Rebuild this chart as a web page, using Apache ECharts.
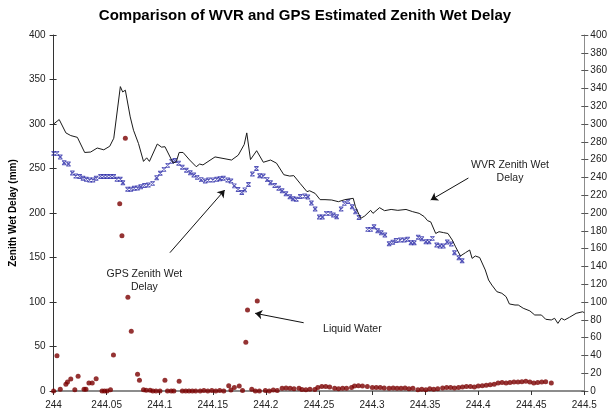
<!DOCTYPE html>
<html>
<head>
<meta charset="utf-8">
<script src="https://cdn.jsdelivr.net/npm/echarts@6/dist/echarts.min.js"></script>
<style>
  html, body { margin: 0; padding: 0; background: #fff; }
  #chart { width: 610px; height: 415px; }
</style>
</head>
<body>
<div id="chart"></div>
<script>
// WVR zenith wet delay (mm), black line
const wvrTime = [244.0000, 244.0053, 244.0116, 244.0162, 244.0224, 244.0293, 244.0349, 244.0411, 244.0473, 244.0529,
  244.0567, 244.0629, 244.0651, 244.0676, 244.0722, 244.0753, 244.0800, 244.0847, 244.0877, 244.0903,
  244.0977, 244.1017, 244.1049, 244.1127, 244.1157, 244.1183, 244.1220, 244.1282, 244.1344, 244.1376,
  244.1407, 244.1521, 244.1677, 244.1740, 244.1796, 244.1820, 244.1855, 244.1913, 244.1976, 244.2044,
  244.2100, 244.2169, 244.2225, 244.2263, 244.2324, 244.2387, 244.2412, 244.2464, 244.2511, 244.2557,
  244.2620, 244.2683, 244.2744, 244.2823, 244.2844, 244.2894, 244.2931, 244.2987, 244.3009, 244.3071,
  244.3118, 244.3180, 244.3243, 244.3320, 244.3383, 244.3444, 244.3491, 244.3523, 244.3553, 244.3600,
  244.3631, 244.3672, 244.3715, 244.3756, 244.3787, 244.3833, 244.3880, 244.3920, 244.3943, 244.3973,
  244.4014, 244.4067, 244.4098, 244.4129, 244.4176, 244.4223, 244.4263, 244.4294, 244.4347, 244.4378,
  244.4424, 244.4487, 244.4533, 244.4596, 244.4636, 244.4689, 244.4720, 244.4751, 244.4783, 244.4814,
  244.4860, 244.4923, 244.4984, 244.5000];
const wvrDelay = [300, 305, 290, 287, 285, 268, 268.5, 273, 271, 275,
  284, 342, 336, 338, 308, 293, 278, 258, 262, 258,
  277.5, 274, 274.5, 256, 258, 268, 268, 259.5, 252, 255,
  254, 263, 259.5, 265, 277, 290, 260, 270, 257, 259.5,
  256, 243, 241.5, 242, 233, 224, 225, 222, 215, 215,
  214.6, 212.7, 215, 216.5, 207, 194, 196.6, 203, 199.6, 206,
  202.6, 204, 203, 204, 201.5, 199.6, 196, 191.4, 190, 177,
  179, 178, 177, 169.6, 162, 151.7, 155.4, 158.4, 149, 151.7,
  150, 136, 124.7, 119, 111.6, 109.8, 106, 97.8, 96.6, 96.6,
  93, 90, 85.4, 85.4, 80.6, 79.8, 81.7, 76, 81.7, 79.8,
  82.8, 87.3, 89, 88];

// GPS zenith wet delay (mm), blue markers
const gpsTime = [244.0000, 244.0032, 244.0063, 244.0100, 244.0140, 244.0177, 244.0209, 244.0246, 244.0277, 244.0308,
  244.0340, 244.0371, 244.0401, 244.0442, 244.0473, 244.0504, 244.0536, 244.0567, 244.0597, 244.0629,
  244.0653, 244.0697, 244.0728, 244.0760, 244.0791, 244.0821, 244.0856, 244.0893, 244.0933, 244.0971,
  244.1005, 244.1040, 244.1075, 244.1111, 244.1142, 244.1178, 244.1213, 244.1251, 244.1288, 244.1321,
  244.1353, 244.1391, 244.1428, 244.1460, 244.1500, 244.1537, 244.1568, 244.1600, 244.1640, 244.1671,
  244.1703, 244.1738, 244.1773, 244.1801, 244.1836, 244.1873, 244.1911, 244.1941, 244.1976, 244.2013,
  244.2044, 244.2083, 244.2121, 244.2153, 244.2189, 244.2226, 244.2256, 244.2287, 244.2324, 244.2365,
  244.2396, 244.2429, 244.2464, 244.2503, 244.2533, 244.2569, 244.2604, 244.2636, 244.2667, 244.2709,
  244.2739, 244.2774, 244.2813, 244.2844, 244.2877, 244.2959, 244.2987, 244.3019, 244.3053, 244.3087,
  244.3121, 244.3161, 244.3196, 244.3227, 244.3267, 244.3304, 244.3336, 244.3367, 244.3398, 244.3435,
  244.3469, 244.3507, 244.3538, 244.3569, 244.3609, 244.3640, 244.3672, 244.3709, 244.3747, 244.3777,
  244.3818, 244.3849];
const gpsDelay = [267, 267, 263, 256.5, 255, 245, 241.5, 241, 239, 238,
  237, 237, 239, 241, 241, 241, 241, 241, 238, 238,
  234, 226.6, 226.6, 227.8, 228, 229.6, 231, 231.5, 233.3, 239.5,
  244.6, 249, 253.5, 258, 259, 255.8, 251.3, 248, 245.3, 242.7,
  240, 237.5, 236, 237, 237, 238, 238.5, 239, 237, 236,
  230.5, 226.5, 223, 226, 232, 243.8, 250, 241.8, 241.6, 237.5,
  234, 231, 227.8, 225, 221.6, 218.3, 216, 215.5, 218.6, 219,
  218, 211.3, 204.5, 195.5, 195.5, 199.6, 199.6, 197.8, 195.8, 204.5,
  210.8, 213, 207, 201.5, 195, 181.6, 181.6, 184.6, 180, 177.9,
  175.3, 165.5, 167.2, 169, 169.7, 169.7, 170.4, 166.6, 166.6, 172.7,
  171, 167.8, 167.6, 171.5, 164, 163, 163, 167.4, 165.2, 155.4,
  149.8, 146.4];

// Liquid water, dark red dots
const lwTime = [244.0000, 244.0032, 244.0063, 244.0116, 244.0131, 244.0162, 244.0200, 244.0231, 244.0287, 244.0305,
  244.0333, 244.0364, 244.0401, 244.0457, 244.0480, 244.0504, 244.0536, 244.0564, 244.0623, 244.0644,
  244.0676, 244.0700, 244.0732, 244.0791, 244.0809, 244.0847, 244.0872, 244.0909, 244.0935, 244.0965,
  244.1002, 244.1049, 244.1073, 244.1108, 244.1133, 244.1183, 244.1213, 244.1245, 244.1276, 244.1307,
  244.1339, 244.1381, 244.1416, 244.1453, 244.1491, 244.1528, 244.1565, 244.1603, 244.1650, 244.1671,
  244.1703, 244.1749, 244.1780, 244.1811, 244.1827, 244.1919, 244.1867, 244.1901, 244.1939, 244.1995,
  244.2032, 244.2070, 244.2107, 244.2153, 244.2190, 244.2228, 244.2265, 244.2312, 244.2340, 244.2377,
  244.2415, 244.2461, 244.2489, 244.2527, 244.2564, 244.2601, 244.2648, 244.2685, 244.2723, 244.2760,
  244.2807, 244.2835, 244.2872, 244.2910, 244.2956, 244.3003, 244.3040, 244.3077, 244.3115, 244.3161,
  244.3199, 244.3236, 244.3273, 244.3311, 244.3348, 244.3385, 244.3432, 244.3469, 244.3507, 244.3544,
  244.3581, 244.3619, 244.3665, 244.3703, 244.3740, 244.3777, 244.3815, 244.3852, 244.3889, 244.3927,
  244.3964, 244.4001, 244.4039, 244.4076, 244.4113, 244.4151, 244.4188, 244.4225, 244.4263, 244.4300,
  244.4337, 244.4375, 244.4412, 244.4449, 244.4487, 244.4524, 244.4561, 244.4599, 244.4636, 244.4689];
const lwValue = [0, 39.5, 2, 7.5, 10, 13.5, 1.5, 16.5, 2, 2,
  9, 9, 13.8, 0, 0, 0, 1.5, 40.4, 210.5, 174.5,
  284, 105.3, 67, 18.7, 12, 1.5, 0.8, 0.8, 0, 0,
  0, 12, 0, 0, 0, 11, 0, 0, 0, 0,
  0, 0, 0.5, 0, 0.5, 0, 0.5, 0, 6, 1,
  4, 5.6, 0.5, 54.7, 91, 101, 2, 0, 0, 0.5,
  0, 1, 0.5, 3, 3.5, 3, 2.5, 3, 1.8, 1.5,
  2, 1.8, 4, 5, 5, 4.5, 3, 2.5, 3, 3,
  4, 5.5, 6, 5.5, 5, 4, 4, 4, 3.5, 3,
  3.5, 3, 3, 3.5, 2.5, 3, 1.5, 2, 1.5, 2.5,
  2, 2.5, 3.5, 4, 4, 3.5, 4, 4.5, 5, 5,
  4.5, 5.5, 6, 6.5, 7, 7.5, 9, 9.5, 9, 9.5,
  10, 10, 10.5, 11, 10, 9, 9.5, 10, 10.5, 9];

// annotation arrows [fromTime, fromValue, toTime, toValue] and text [time, value, label]
const arrows = [
  [244.3908, 239.3, 244.3553, 214.6],
  [244.1096, 155.4, 244.1612, 225.8],
  [244.2356, 76.7, 244.1899, 87.3]
];
const notes = [
  [244.4300, 246.3, 'WVR Zenith Wet\nDelay'],
  [244.0855, 124.0, 'GPS Zenith Wet\nDelay'],
  [244.2815, 69.7, 'Liquid Water']
];

const zip = (a, b) => a.map((v, i) => [v, b[i]]);
const FONT = '"Liberation Sans", Arial, sans-serif';

const chart = echarts.init(document.getElementById('chart'));
chart.setOption({
  animation: false,
  backgroundColor: '#fff',
  textStyle: { fontFamily: FONT },
  title: {
    text: 'Comparison of WVR and GPS Estimated Zenith Wet Delay',
    left: 'center',
    top: 3,
    textStyle: { fontFamily: FONT, fontSize: 15, fontWeight: 'bold', color: '#000' }
  },
  grid: { left: 49, top: 35, width: 536, height: 356, containLabel: false },
  xAxis: {
    type: 'value',
    min: 244,
    max: 244.5,
    interval: 0.05,
    axisLine: { lineStyle: { color: '#8c8c8c', width: 2 } },
    axisTick: { show: true, length: 4, lineStyle: { color: '#333' } },
    axisLabel: {
      fontSize: 10, color: '#222', margin: 9,
      formatter: v => String(parseFloat(v.toFixed(2)))
    },
    splitLine: { show: false }
  },
  yAxis: [
    {
      type: 'value', position: 'left', min: 0, max: 400, interval: 50,
      name: 'Zenith Wet Delay (mm)',
      nameLocation: 'middle', nameGap: 34,
      nameTextStyle: { fontFamily: FONT, fontSize: 10, fontWeight: 'bold', color: '#000' },
      axisLine: { show: true, lineStyle: { color: '#333' } },
      axisTick: { show: true, length: 4, lineStyle: { color: '#333' } },
      axisLabel: { fontSize: 10, color: '#222', margin: 8 },
      splitLine: { show: false }
    },
    {
      type: 'value', position: 'right', min: 0, max: 400, interval: 20,
      axisLine: { show: true, lineStyle: { color: '#8c8c8c' } },
      axisTick: { show: true, length: 4, lineStyle: { color: '#555' } },
      axisLabel: { fontSize: 10, color: '#222', margin: 6 },
      splitLine: { show: false }
    },
    {
      type: 'value', position: 'left', min: 0, max: 400, interval: 50,
      axisLine: { show: false },
      axisTick: { show: true, inside: true, length: 3, lineStyle: { color: '#333' } },
      axisLabel: { show: false },
      splitLine: { show: false }
    },
    {
      type: 'value', position: 'right', min: 0, max: 400, interval: 20,
      axisLine: { show: false },
      axisTick: { show: true, inside: true, length: 3, lineStyle: { color: '#555' } },
      axisLabel: { show: false },
      splitLine: { show: false }
    }
  ],
  series: [
    {
      name: 'Liquid Water',
      type: 'scatter',
      yAxisIndex: 1,
      data: zip(lwTime, lwValue),
      symbol: 'circle',
      symbolSize: 5,
      itemStyle: { color: '#7a0000' },
      z: 2
    },
    {
      name: 'GPS Zenith Wet Delay',
      type: 'scatter',
      data: zip(gpsTime, gpsDelay),
      symbol: 'path://M0,0L10,0M0,10L10,10M1,1L9,9M9,1L1,9',
      symbolSize: [4.5, 4],
      itemStyle: { color: 'rgba(0,0,0,0)', borderColor: '#2a2aa8', borderWidth: 1 },
      z: 3
    },
    {
      name: 'WVR Zenith Wet Delay',
      type: 'line',
      data: zip(wvrTime, wvrDelay),
      showSymbol: false,
      symbol: 'none',
      lineStyle: { color: '#1a1a1a', width: 1 },
      z: 4,
      markLine: {
        silent: true,
        symbol: ['none', 'arrow'],
        symbolSize: 7,
        lineStyle: { color: '#111', width: 1, type: 'solid' },
        label: { show: false },
        data: arrows.map(a => [{ coord: [a[0], a[1]] }, { coord: [a[2], a[3]] }])
      },
      markPoint: {
        silent: true,
        symbol: 'rect',
        symbolSize: 1,
        itemStyle: { color: 'rgba(0,0,0,0)' },
        label: {
          show: true, position: 'inside', fontSize: 10.5, lineHeight: 13,
          color: '#222', align: 'center', formatter: p => p.name
        },
        data: notes.map(n => ({ coord: [n[0], n[1]], name: n[2] }))
      }
    }
  ]
});
</script>
</body>
</html>
